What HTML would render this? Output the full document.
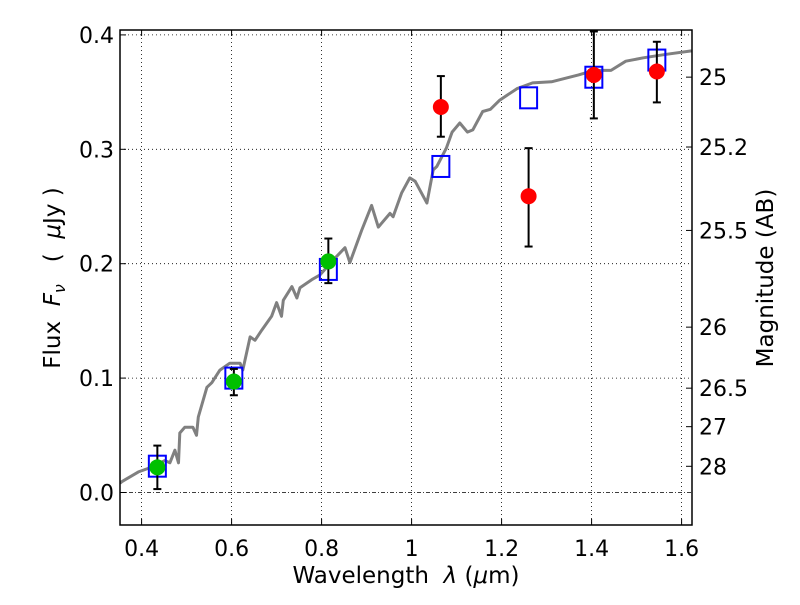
<!DOCTYPE html>
<html><head><meta charset="utf-8"><style>
body{margin:0;background:#fff;}
svg text{font-family:"DejaVu Sans","Liberation Sans",sans-serif;fill:#000;white-space:pre;}
</style></head><body>
<svg id="chart" width="800" height="600" xmlns="http://www.w3.org/2000/svg">
<rect width="800" height="600" fill="#fff"/>
<g id="grid"></g>
<g id="plot"></g>
<g id="axes"></g>
<text x="406" y="583" font-size="23" text-anchor="middle" xml:space="preserve">Wavelength  <tspan font-style="italic">λ</tspan> (<tspan font-style="italic">μ</tspan>m)</text>
<text transform="translate(60,278) rotate(-90)" font-size="23" text-anchor="middle" xml:space="preserve">Flux  <tspan font-style="italic">F</tspan><tspan font-style="italic" font-size="16" dy="5">ν</tspan><tspan dy="-5">   (  </tspan><tspan font-style="italic">μ</tspan>Jy )</text>
<text transform="translate(773,278) rotate(-90)" font-size="23" text-anchor="middle">Magnitude (AB)</text>
</svg>
<script>
const specX=[0.352,0.356,0.393,0.414,0.452,0.463,0.474,0.482,0.485,0.496,0.514,0.522,0.526,0.545,0.556,0.574,0.596,0.619,0.625,0.641,0.652,0.667,0.689,0.700,0.711,0.715,0.734,0.745,0.752,0.778,0.796,0.830,0.852,0.863,0.889,0.911,0.926,0.952,0.959,0.978,0.996,1.008,1.034,1.048,1.056,1.077,1.090,1.107,1.124,1.136,1.158,1.175,1.196,1.234,1.269,1.311,1.371,1.405,1.443,1.476,1.515,1.566,1.622];
const specY=[0.008,0.0094,0.018,0.021,0.028,0.026,0.037,0.026,0.052,0.057,0.057,0.050,0.066,0.092,0.096,0.107,0.113,0.113,0.107,0.136,0.133,0.142,0.154,0.166,0.154,0.168,0.180,0.170,0.179,0.186,0.190,0.205,0.214,0.201,0.229,0.251,0.232,0.244,0.241,0.262,0.275,0.272,0.253,0.282,0.285,0.301,0.315,0.323,0.315,0.317,0.333,0.335,0.343,0.353,0.358,0.359,0.365,0.369,0.369,0.377,0.380,0.383,0.386];
const modelX=[0.435,0.605,0.815,1.065,1.26,1.405,1.545];
const modelY=[0.023,0.100,0.195,0.285,0.345,0.363,0.378];
const greenX=[0.435,0.605,0.815];
const greenY=[0.022,0.097,0.202];
const greenLo=[0.003,0.085,0.183];
const greenHi=[0.041,0.108,0.222];
const redX=[1.065,1.26,1.405,1.545];
const redY=[0.337,0.259,0.365,0.368];
const redLo=[0.311,0.215,0.327,0.341];
const redHi=[0.364,0.301,0.403,0.394];
const xTicks=[0.4,0.6,0.8,1.0,1.2,1.4,1.6];
const xTickLabels=["0.4","0.6","0.8","1","1.2","1.4","1.6"];
const yTicks=[0.0,0.1,0.2,0.3,0.4];
const yTickLabels=["0.0","0.1","0.2","0.3","0.4"];
const magTicks=[25,25.2,25.5,26,26.5,27,28];
const magTickLabels=["25","25.2","25.5","26","26.5","27","28"];

const L=120,R=692,T=30,B=525;
const sx=v=>141.6+(v-0.4)*450;
const sy=v=>492.5-v*1144;
const NS="http://www.w3.org/2000/svg";
function mk(tag,attrs,parent){const e=document.createElementNS(NS,tag);for(const k in attrs)e.setAttribute(k,attrs[k]);parent.appendChild(e);return e;}
const grid=document.getElementById('grid'),plot=document.getElementById('plot'),axes=document.getElementById('axes');

xTicks.forEach((t,i)=>{
 const g=mk('line',{x1:sx(t),x2:sx(t),y1:T,y2:B,stroke:'#000','stroke-width':0.8,'stroke-dasharray':'1,3'},grid);
 
 
 mk('line',{x1:sx(t),x2:sx(t),y1:B,y2:B-6,stroke:'#000','stroke-width':1},axes);
 mk('line',{x1:sx(t),x2:sx(t),y1:T,y2:T+6,stroke:'#000','stroke-width':1},axes);
 const lb=mk('text',{x:sx(t),y:B+31,'font-size':22,'text-anchor':'middle'},axes);
 lb.textContent=xTickLabels[i];
 
 
});
yTicks.forEach((t,i)=>{
 const g=mk('line',{x1:L,x2:R,y1:sy(t),y2:sy(t),stroke:'#000','stroke-width':0.8,'stroke-dasharray':t===0?'4,2,1,2':'1,3'},grid);
 
 
 mk('line',{x1:L,x2:L+6,y1:sy(t),y2:sy(t),stroke:'#000','stroke-width':1},axes);
 const lb=mk('text',{x:L-6,y:sy(t)+8,'font-size':22,'text-anchor':'end'},axes);
 lb.textContent=yTickLabels[i];
 
 
});
magTicks.forEach((m,i)=>{
 const f=Math.pow(10,(23.9-m)/2.5);
 const y=sy(f);
 mk('line',{x1:R,x2:R-6,y1:y,y2:y,stroke:'#000','stroke-width':1},axes);
 const lb=mk('text',{x:R+7,y:y+8,'font-size':22,'text-anchor':'start'},axes);
 lb.textContent=magTickLabels[i];
 
 
});

const cp=mk('clipPath',{id:'clip'},plot);mk('rect',{x:L,y:T,width:R-L,height:B-T},cp);
const spec=mk('polyline',{points:specX.map((x,i)=>sx(x).toFixed(1)+','+sy(specY[i]).toFixed(1)).join(' '),fill:'none',stroke:'#808080','stroke-width':3,'stroke-linejoin':'round','clip-path':'url(#clip)'},plot);



modelX.forEach((x,i)=>{
 const r=mk('rect',{x:sx(x)-8.5,y:sy(modelY[i])-10.5,width:17,height:21,fill:'none',stroke:'#0000ff','stroke-width':2},plot);
 
 
});
function pts(X,Y,Lo,Hi,color,name){
 X.forEach((x,i)=>{
  const e=mk('line',{x1:sx(x),x2:sx(x),y1:sy(Lo[i]),y2:sy(Hi[i]),stroke:'#000','stroke-width':2},plot);
  
  
  mk('line',{x1:sx(x)-4,x2:sx(x)+4,y1:sy(Lo[i]),y2:sy(Lo[i]),stroke:'#000','stroke-width':2},plot);
  mk('line',{x1:sx(x)-4,x2:sx(x)+4,y1:sy(Hi[i]),y2:sy(Hi[i]),stroke:'#000','stroke-width':2},plot);
  const c=mk('circle',{cx:sx(x),cy:sy(Y[i]),r:8,fill:color},plot);
  
  
 });
}
pts(greenX,greenY,greenLo,greenHi,'#00c000','optical-flux');
pts(redX,redY,redLo,redHi,'#ff0000','nir-flux');
const fr=mk('rect',{x:L,y:T,width:R-L,height:B-T,fill:'none',stroke:'#000','stroke-width':1.5},axes);


</script>
</body></html>
